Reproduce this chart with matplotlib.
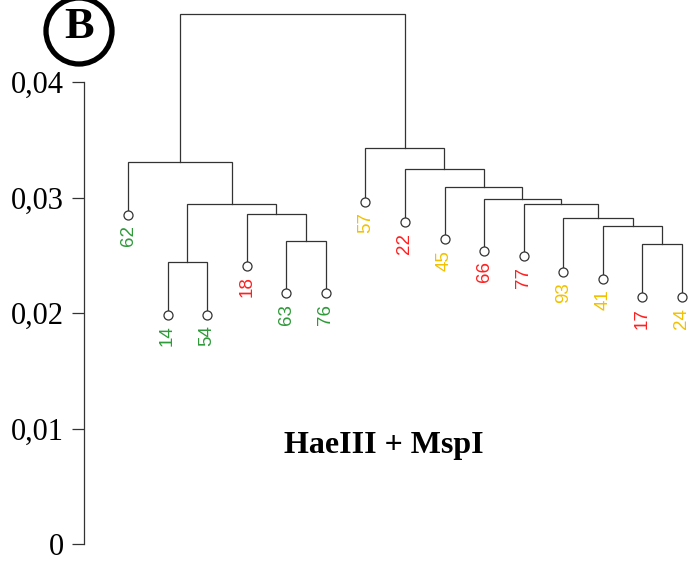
import numpy as np
import matplotlib.pyplot as plt
from matplotlib.patches import Circle

# leaves in plotting order (left to right)
labels = ["62", "14", "54", "18", "63", "76", "57", "22", "45", "66", "77", "93", "41", "17", "24"]
leaf_h = [0.02848, 0.01983, 0.01983, 0.02407, 0.02170, 0.02170, 0.02964, 0.02785,
          0.02638, 0.02537, 0.02491, 0.02358, 0.02297, 0.02136, 0.02136]
groups = ["g", "g", "g", "r", "g", "g", "y", "r", "y", "r", "r", "y", "y", "r", "y"]

# merges, R style: negative = leaf (1-based), positive = earlier merge (1-based)
merge_a = [-2, -5, -4, 1, -1, -14, -13, -12, -11, -10, -9, -8, -7, 5]
merge_b = [-3, -6, 2, 3, 4, -15, 6, 7, 8, 9, 10, 11, 12, 13]
merge_h = [0.02444, 0.02626, 0.02855, 0.02944, 0.03307, 0.02595, 0.02753, 0.0282,
           0.02944, 0.02987, 0.03091, 0.03247, 0.03429, 0.04589]

yticks = [0, 0.01, 0.02, 0.03, 0.04]
ytick_labels = ["0", "0,01", "0,02", "0,03", "0,04"]

colors = {"g": "#2f9a3a", "r": "#ff2020", "y": "#f2c200"}
line_col = "#333333"

W, H = 689, 561
fig = plt.figure(figsize=(W / 100, H / 100), dpi=100)

# axes placed in pixels: x 84..689, y 0 at px 544 up to top
px_per_leaf = 39.57
leaf0 = 128
y_scale = 11550.0
ax = fig.add_axes([84 / W, (H - 544) / H, (W - 84) / W, 544 / H])
ax.set_xlim((84 - leaf0) / px_per_leaf, (W - leaf0) / px_per_leaf)
ax.set_ylim(0, 544 / y_scale)

# positions of nodes
node_x = {}
node_y = {}
for i in range(len(labels)):
    node_x[-(i + 1)] = i
    node_y[-(i + 1)] = leaf_h[i]

for k in range(len(merge_h)):
    a, b, h = merge_a[k], merge_b[k], merge_h[k]
    xa, xb = node_x[a], node_x[b]
    ax.plot([xa, xa, xb, xb], [node_y[a], h, h, node_y[b]], color=line_col, lw=0.9,
            solid_joinstyle="miter")
    node_x[k + 1] = (xa + xb) / 2
    node_y[k + 1] = h

# leaf circles and labels
xs = np.arange(len(labels))
ax.plot(xs, leaf_h, "o", mfc="white", mec=line_col, ms=6.5, mew=0.9, zorder=3)
for i, lab in enumerate(labels):
    ax.annotate(lab, (i, leaf_h[i]), xytext=(0, -7.5), textcoords="offset points",
                rotation=90, ha="center", va="top", fontsize=13.5,
                family="Liberation Sans", color=colors[groups[i]])

# y axis
for s in ["top", "right", "bottom"]:
    ax.spines[s].set_visible(False)
ax.spines["left"].set_bounds(0, 0.04)
ax.spines["left"].set_color(line_col)
ax.spines["left"].set_linewidth(0.9)
ax.set_yticks(yticks)
ax.set_yticklabels(ytick_labels, family="Liberation Serif", fontsize=22)
ax.tick_params(axis="y", length=8.5, width=0.9, color=line_col, pad=6)
ax.set_xticks([])
ax.patch.set_visible(False)

fig.text(384 / W, (H - 445) / H, "HaeIII + MspI", ha="center", va="center",
         family="Liberation Serif", fontweight="bold", fontsize=23)

# circled B
circ = Circle((79 / 100, (H - 31) / 100), 33 / 100, transform=fig.dpi_scale_trans,
              fill=False, lw=3.8, ec="black")
fig.patches.append(circ)
fig.text(79 / W, (H - 27) / H, "B", ha="center", va="center",
         family="Liberation Serif", fontweight="bold", fontsize=32)

fig.savefig("out.png", dpi=100)
